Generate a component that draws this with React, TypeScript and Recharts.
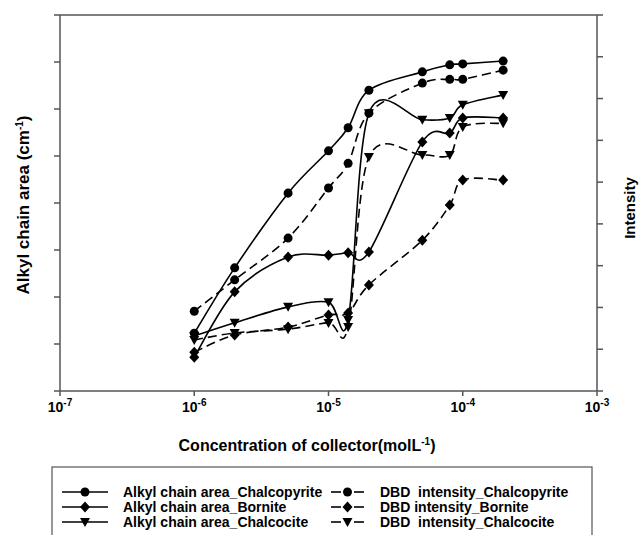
import React from 'react';
import { LineChart, Line, XAxis, YAxis } from 'recharts';

// Collector concentrations (mol/L)
const concentrations = [1e-6, 2e-6, 5e-6, 1e-5, 1.4e-5, 2e-5, 5e-5, 8e-5, 1e-4, 2e-4];
// Alkyl chain area (left axis, unlabeled ticks 0..8)
const alkylChalcopyrite = [1.23, 2.62, 4.21, 5.11, 5.6, 6.4, 6.79, 6.94, 6.96, 7.02];
const alkylBornite = [0.72, 2.11, 2.85, 2.89, 2.94, 2.96, 5.3, 5.49, 5.81, 5.81];
const alkylChalcocite = [1.17, 1.45, 1.79, 1.89, 1.51, 5.91, 5.77, 5.81, 6.09, 6.3];
// DBD intensity (right axis, unlabeled ticks 0..9)
const dbdChalcopyrite = [1.91, 2.66, 3.66, 4.86, 5.45, 6.65, 7.37, 7.46, 7.46, 7.68];
const dbdBornite = [0.93, 1.34, 1.53, 1.82, 1.87, 2.54, 3.61, 4.45, 5.05, 5.05];
const dbdChalcocite = [1.22, 1.39, 1.48, 1.63, 1.53, 5.6, 5.65, 5.65, 6.32, 6.41];

const xTicks = [1e-7, 1e-6, 1e-5, 1e-4, 1e-3];
const leftTicks = [0, 1, 2, 3, 4, 5, 6, 7, 8];
const rightTicks = [0, 1, 2, 3, 4, 5, 6, 7, 8, 9];

const legendLeft = ['Alkyl chain area_Chalcopyrite', 'Alkyl chain area_Bornite', 'Alkyl chain area_Chalcocite'];
const legendRight = ['DBD  intensity_Chalcopyrite', 'DBD intensity_Bornite', 'DBD  intensity_Chalcocite'];
const shapes = ['circle', 'diamond', 'triangle'];

const data = concentrations.map((c, i) => ({
  x: c,
  aCp: alkylChalcopyrite[i],
  aBn: alkylBornite[i],
  aCc: alkylChalcocite[i],
  dCp: dbdChalcopyrite[i],
  dBn: dbdBornite[i],
  dCc: dbdChalcocite[i],
}));

const FONT = '"Liberation Sans", Arial, Helvetica, sans-serif';
const AXIS = '#555';

// Catmull-Rom style curve factory (segment-wise cubic spline)
function catmullRom(context: any) {
  let pts: number[][] = [];
  const k = 1 / 6;
  return {
    areaStart() {},
    areaEnd() {},
    lineStart() {
      pts = [];
    },
    lineEnd() {
      const n = pts.length;
      if (!n) return;
      context.moveTo(pts[0][0], pts[0][1]);
      if (n === 1) return;
      for (let i = 0; i < n - 1; i++) {
        const p0 = pts[Math.max(i - 1, 0)];
        const p1 = pts[i];
        const p2 = pts[i + 1];
        const p3 = pts[Math.min(i + 2, n - 1)];
        context.bezierCurveTo(
          p1[0] + (p2[0] - p0[0]) * k,
          p1[1] + (p2[1] - p0[1]) * k,
          p2[0] - (p3[0] - p1[0]) * k,
          p2[1] - (p3[1] - p1[1]) * k,
          p2[0],
          p2[1]
        );
      }
    },
    point(x: number, y: number) {
      pts.push([+x, +y]);
    },
  };
}

function markerPath(shape: string, cx: number, cy: number) {
  if (shape === 'diamond') {
    return `M${cx},${cy - 5.5}L${cx + 5},${cy}L${cx},${cy + 5.5}L${cx - 5},${cy}Z`;
  }
  if (shape === 'triangle') {
    return `M${cx - 5},${cy - 4}L${cx + 5},${cy - 4}L${cx},${cy + 5}Z`;
  }
  return `M${cx - 4.5},${cy}a4.5,4.5 0 1,0 9,0a4.5,4.5 0 1,0 -9,0Z`;
}

const makeDot = (shape: string) => (props: any) => {
  const { cx, cy, index } = props;
  if (cx == null || cy == null) return <g key={`d-${index}`} />;
  return <path key={`d-${shape}-${index}`} d={markerPath(shape, cx, cy)} fill="#000" stroke="none" />;
};

const XTick = (props: any) => {
  const { x, y, payload } = props;
  const exp = Math.round(Math.log10(payload.value));
  return (
    <text x={x} y={y + 14} textAnchor="middle" fontFamily={FONT} fontWeight="bold" fontSize={14} fill="#000">
      10
      <tspan dy={-6} fontSize={10}>{String(exp)}</tspan>
    </text>
  );
};

const empty = () => '';

export default function App() {
  const rows = [492, 507, 522];
  return (
    <div style={{ position: 'absolute', left: 0, top: 0, width: 640, height: 535, overflow: 'hidden', background: '#fff' }}>
      <LineChart width={640} height={535} data={data} margin={{ top: 14, right: 42, bottom: 114, left: 59 }}>
        <XAxis
          xAxisId="main"
          dataKey="x"
          type="number"
          scale="log"
          domain={[1e-7, 1e-3]}
          allowDataOverflow
          ticks={xTicks}
          height={30}
          tickSize={5}
          tick={<XTick />}
          axisLine={{ stroke: AXIS, strokeWidth: 1.5 }}
          tickLine={{ stroke: AXIS, strokeWidth: 1.5 }}
        />
        <XAxis
          xAxisId="top"
          orientation="top"
          type="number"
          scale="log"
          domain={[1e-7, 1e-3]}
          allowDataOverflow
          height={1}
          tickLine={false}
          tickFormatter={empty}
          axisLine={{ stroke: AXIS, strokeWidth: 1.5 }}
        />
        <YAxis
          yAxisId="left"
          orientation="left"
          width={1}
          domain={[0, 8]}
          ticks={leftTicks}
          tickSize={6}
          tickFormatter={empty}
          axisLine={{ stroke: AXIS, strokeWidth: 1.5 }}
          tickLine={{ stroke: AXIS, strokeWidth: 1.5 }}
        />
        <YAxis
          yAxisId="right"
          orientation="right"
          width={1}
          domain={[0, 9]}
          ticks={rightTicks}
          tickSize={6}
          tickFormatter={empty}
          axisLine={{ stroke: AXIS, strokeWidth: 1.5 }}
          tickLine={{ stroke: AXIS, strokeWidth: 1.5 }}
        />
        <Line xAxisId="main" yAxisId="left" dataKey="aCp" type={catmullRom as any} stroke="#000" strokeWidth={1.6} dot={makeDot('circle')} activeDot={false} isAnimationActive={false} />
        <Line xAxisId="main" yAxisId="left" dataKey="aBn" type={catmullRom as any} stroke="#000" strokeWidth={1.6} dot={makeDot('diamond')} activeDot={false} isAnimationActive={false} />
        <Line xAxisId="main" yAxisId="left" dataKey="aCc" type={catmullRom as any} stroke="#000" strokeWidth={1.6} dot={makeDot('triangle')} activeDot={false} isAnimationActive={false} />
        <Line xAxisId="main" yAxisId="right" dataKey="dCp" type={catmullRom as any} stroke="#000" strokeWidth={1.6} strokeDasharray="9 5" dot={makeDot('circle')} activeDot={false} isAnimationActive={false} />
        <Line xAxisId="main" yAxisId="right" dataKey="dBn" type={catmullRom as any} stroke="#000" strokeWidth={1.6} strokeDasharray="9 5" dot={makeDot('diamond')} activeDot={false} isAnimationActive={false} />
        <Line xAxisId="main" yAxisId="right" dataKey="dCc" type={catmullRom as any} stroke="#000" strokeWidth={1.6} strokeDasharray="9 5" dot={makeDot('triangle')} activeDot={false} isAnimationActive={false} />
      </LineChart>
      <svg width={640} height={535} style={{ position: 'absolute', left: 0, top: 0, pointerEvents: 'none' }}>
        <g fontFamily={FONT} fontWeight="bold" fill="#000">
          <text x={307} y={451} textAnchor="middle" fontSize={16}>
            Concentration of collector(molL
            <tspan dy={-6} fontSize={10}>-1</tspan>
            <tspan dy={6}>)</tspan>
          </text>
          <text transform="translate(29,205) rotate(-90)" textAnchor="middle" fontSize={17}>
            Alkyl chain area (cm
            <tspan dy={-6} fontSize={10}>-1</tspan>
            <tspan dy={6}>)</tspan>
          </text>
          <text transform="translate(635,208) rotate(-90)" textAnchor="middle" fontSize={15}>
            Intensity
          </text>
        </g>
        <rect x={52} y={467} width={540} height={80} fill="none" stroke={AXIS} strokeWidth={1.2} />
        {rows.map((cy, i) => (
          <g key={`lg-${i}`} fontFamily={FONT} fontWeight="bold" fontSize={14} fill="#000">
            <line x1={62} x2={108} y1={cy} y2={cy} stroke="#000" strokeWidth={1.6} />
            <path d={markerPath(shapes[i], 85, cy)} fill="#000" />
            <text x={123} y={cy + 5} style={{ whiteSpace: 'pre' }}>{legendLeft[i]}</text>
            <line x1={331} x2={341} y1={cy} y2={cy} stroke="#000" strokeWidth={1.6} />
            <line x1={354} x2={364} y1={cy} y2={cy} stroke="#000" strokeWidth={1.6} />
            <path d={markerPath(shapes[i], 347.5, cy)} fill="#000" />
            <text x={380} y={cy + 5} style={{ whiteSpace: 'pre' }}>{legendRight[i]}</text>
          </g>
        ))}
      </svg>
    </div>
  );
}
